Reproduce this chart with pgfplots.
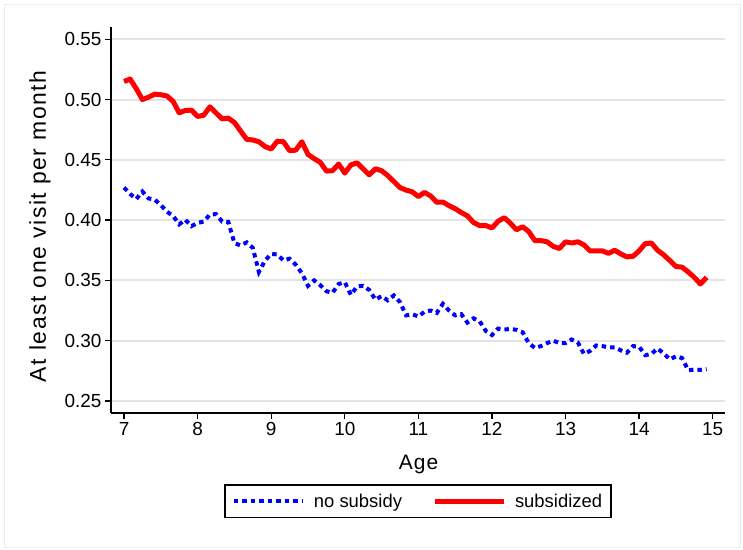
\documentclass[border=0pt]{standalone}
\usepackage{fontspec}
\setmainfont{Liberation Sans}
\usepackage{pgfplots}
\pgfplotsset{compat=1.18}
\usepackage{pgfplotstable}

\definecolor{gridgray}{RGB}{228,228,228}
\definecolor{framegray}{RGB}{236,236,236}

% share with at least one visit per month, by age in months
\pgfplotstableread{
age    nosub   sub
7.000  0.4270  0.5150
7.083  0.4217  0.5170
7.167  0.4175  0.5090
7.250  0.4237  0.5000
7.333  0.4180  0.5020
7.417  0.4170  0.5045
7.500  0.4125  0.5040
7.583  0.4070  0.5030
7.667  0.4035  0.4985
7.750  0.3965  0.4890
7.833  0.4003  0.4910
7.917  0.3950  0.4912
8.000  0.3977  0.4860
8.083  0.3988  0.4870
8.167  0.4046  0.4940
8.250  0.4050  0.4890
8.333  0.3988  0.4840
8.417  0.3985  0.4846
8.500  0.3810  0.4810
8.583  0.3790  0.4740
8.667  0.3815  0.4670
8.750  0.3770  0.4665
8.833  0.3570  0.4650
8.917  0.3665  0.4610
9.000  0.3720  0.4590
9.083  0.3715  0.4655
9.167  0.3665  0.4650
9.250  0.3680  0.4576
9.333  0.3630  0.4580
9.417  0.3560  0.4650
9.500  0.3455  0.4545
9.583  0.3500  0.4510
9.667  0.3460  0.4480
9.750  0.3410  0.4407
9.833  0.3397  0.4410
9.917  0.3470  0.4465
10.000 0.3485  0.4390
10.083 0.3380  0.4458
10.167 0.3450  0.4475
10.250 0.3455  0.4425
10.333 0.3420  0.4375
10.417 0.3340  0.4426
10.500 0.3370  0.4410
10.583 0.3335  0.4370
10.667 0.3375  0.4320
10.750 0.3320  0.4270
10.833 0.3210  0.4249
10.917 0.3220  0.4235
11.000 0.3200  0.4195
11.083 0.3240  0.4230
11.167 0.3250  0.4200
11.250 0.3230  0.4148
11.333 0.3305  0.4150
11.417 0.3250  0.4120
11.500 0.3210  0.4095
11.583 0.3220  0.4063
11.667 0.3150  0.4035
11.750 0.3185  0.3980
11.833 0.3160  0.3955
11.917 0.3080  0.3955
12.000 0.3047  0.3935
12.083 0.3100  0.3990
12.167 0.3092  0.4020
12.250 0.3097  0.3975
12.333 0.3090  0.3920
12.417 0.3070  0.3945
12.500 0.2980  0.3905
12.583 0.2940  0.3830
12.667 0.2955  0.3830
12.750 0.2980  0.3820
12.833 0.3000  0.3782
12.917 0.2980  0.3765
13.000 0.2980  0.3820
13.083 0.3010  0.3810
13.167 0.2985  0.3820
13.250 0.2890  0.3795
13.333 0.2915  0.3745
13.417 0.2960  0.3745
13.500 0.2955  0.3745
13.583 0.2945  0.3724
13.667 0.2945  0.3750
13.750 0.2920  0.3720
13.833 0.2900  0.3695
13.917 0.2955  0.3700
14.000 0.2950  0.3745
14.083 0.2880  0.3805
14.167 0.2890  0.3810
14.250 0.2935  0.3750
14.333 0.2895  0.3712
14.417 0.2845  0.3665
14.500 0.2870  0.3615
14.583 0.2856  0.3610
14.667 0.2755  0.3570
14.750 0.2760  0.3525
14.833 0.2758  0.3470
14.917 0.2765  0.3525
}\visits

\begin{document}
\begin{tikzpicture}
\begin{axis}[
  name=ax,
  scale only axis,
  width=614bp, height=386bp,
  xmin=6.823, xmax=15.167,
  ymin=0.240, ymax=0.5602,
  axis x line*=bottom, axis y line*=left,
  axis line style={line width=1.3bp, black},
  xtick={7,8,9,10,11,12,13,14,15},
  ytick={0.25,0.30,0.35,0.40,0.45,0.50,0.55},
  tick align=outside,
  major tick length=6bp,
  tick style={line width=1.3bp, black},
  ymajorgrids,
  grid style={line width=2bp, gridgray},
  /pgf/number format/assume math mode=true,
  tick label style={font=\fontsize{19}{22}\selectfont},
  yticklabel style={/pgf/number format/.cd, fixed, fixed zerofill, precision=2},
  xticklabel style={/pgf/number format/.cd, fixed, precision=0},
  xlabel={Age},
  xlabel style={at={(axis description cs:0.5008,-0.1476)}, anchor=base,
    font=\fontsize{21}{25}\selectfont\addfontfeatures{LetterSpace=5}},
  ylabel={At least one visit per month},
  ylabel style={at={(axis description cs:-0.1059,0.484)}, anchor=base,
    font=\fontsize{23}{27}\selectfont\addfontfeatures{LetterSpace=7}},
  legend columns=2,
  legend style={at={(0.5,-0.229)}, anchor=center, draw=black, line width=1.2bp,
    font=\fontsize{18.5}{22}\selectfont, inner xsep=7bp, inner ysep=7bp,
    /tikz/every odd column/.append style={column sep=7bp},
    /tikz/every even column/.append style={column sep=28bp}},
  legend image code/.code={\draw[#1] (0bp,0bp) -- (69bp,0bp);},
]
\addplot[blue, line width=4bp, dash pattern=on 4.5bp off 4bp]
  table[x=age, y=nosub] {\visits};
\addlegendentry{no subsidy}
\addplot[red, line width=5bp, line join=round]
  table[x=age, y=sub] {\visits};
\addlegendentry{subsidized}
\end{axis}
% graph region border
\draw[framegray, line width=1bp]
  ([shift={(-106bp,-134bp)}]ax.south west) rectangle ([shift={(629bp,408bp)}]ax.south west);
\path ([shift={(-111bp,-137bp)}]ax.south west) rectangle ([shift={(632bp,413bp)}]ax.south west);
\end{tikzpicture}
\end{document}
